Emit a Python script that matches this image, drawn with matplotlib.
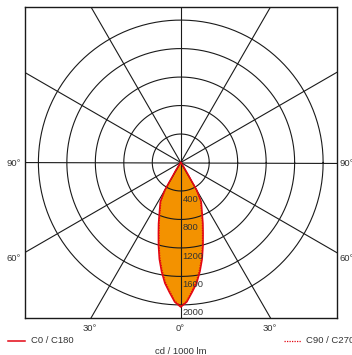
import numpy as np
import matplotlib
matplotlib.use("Agg")
import matplotlib.pyplot as plt

# --- data ---
angles = [0, 2.5, 5, 7.5, 10, 12.5, 15, 17.5, 20, 22.5, 25, 27.5, 30, 32.5, 35, 37.5, 40, 45, 50, 60, 70, 80, 90]
c0_c180 = [2030, 1960, 1830, 1710, 1555, 1390, 1210, 1045, 913, 790, 697, 624, 450, 120, 40, 15, 5, 0, 0, 0, 0, 0, 0]
c90_c270 = [2020, 1945, 1810, 1685, 1525, 1360, 1180, 1015, 885, 765, 672, 600, 420, 100, 30, 10, 3, 0, 0, 0, 0, 0, 0]
ring_values = [400, 800, 1200, 1600, 2000]
ring_labels = ["400", "800", "1200", "1600", "2000"]
spoke_angles = [0, 30, 60, 90, 120, 150]
legend_labels = ["C0 / C180", "C90 / C270"]
unit_label = "cd / 1000 lm"

plt.rcParams['font.family'] = ['Liberation Sans', 'DejaVu Sans']

RED = '#e30613'
ORANGE = '#f39200'
GRID = '#1a1a1a'
TXT = '#333333'

fig = plt.figure(figsize=(3.52, 3.55), dpi=100)
ax = fig.add_axes([25 / 352, (355 - 318.3) / 355, 311.5 / 352, 311.6 / 355])
LIM = 2188
ax.set_xlim(-LIM, LIM)
ax.set_ylim(-LIM, LIM)
ax.set_xticks([])
ax.set_yticks([])
for s in ax.spines.values():
    s.set_color(GRID)
    s.set_linewidth(1.0)


def curve(vals):
    a = np.radians(np.concatenate([-np.array(angles[::-1]), np.array(angles[1:])]))
    v = np.concatenate([np.array(vals[::-1]), np.array(vals[1:])])
    return v * np.sin(a), -v * np.cos(a)


x0, y0 = curve(c0_c180)
x9, y9 = curve(c90_c270)
ax.fill(x0, y0, color=ORANGE, zorder=1, lw=0)

# grid
t = np.linspace(0, 2 * np.pi, 400)
for r in ring_values:
    ax.plot(r * np.cos(t), r * np.sin(t), color=GRID, lw=0.8, zorder=2)
for a in spoke_angles:
    ar = np.radians(a)
    L = 4000
    ax.plot([-L * np.sin(ar), L * np.sin(ar)], [L * np.cos(ar), -L * np.cos(ar)],
            color=GRID, lw=0.8, zorder=2)

ax.plot(x9, y9, color=RED, lw=0.9, ls=(0, (1, 1)), zorder=3)
ax.plot(x0, y0, color=RED, lw=1.1, zorder=4)

for r, lab in zip(ring_values, ring_labels):
    ax.text(25, -r - 50, lab, ha='left', va='top', fontsize=6.8, color=TXT, zorder=5)

# angle labels outside the box
fig.text(21 / 352, 1 - 163 / 355, "90°", ha='right', va='center', fontsize=6.8, color=TXT)
fig.text(340 / 352, 1 - 163 / 355, "90°", ha='left', va='center', fontsize=6.8, color=TXT)
fig.text(21 / 352, 1 - 258.5 / 355, "60°", ha='right', va='center', fontsize=6.8, color=TXT)
fig.text(340 / 352, 1 - 258.5 / 355, "60°", ha='left', va='center', fontsize=6.8, color=TXT)
for xp, lab in [(90, "30°"), (180.3, "0°"), (270, "30°")]:
    fig.text(xp / 352, 1 - 328.5 / 355, lab, ha='center', va='center', fontsize=6.8, color=TXT)

# legend
fig.add_artist(plt.Line2D([8 / 352, 25 / 352], [1 - 340.7 / 355] * 2, color=RED, lw=1.1))
fig.text(31 / 352, 1 - 340.7 / 355, legend_labels[0], ha='left', va='center', fontsize=6.8, color=TXT)
fig.add_artist(plt.Line2D([284 / 352, 301 / 352], [1 - 340.7 / 355] * 2, color=RED, lw=0.9, ls=(0, (1, 1))))
fig.text(305.5 / 352, 1 - 340.7 / 355, legend_labels[1], ha='left', va='center', fontsize=6.8, color=TXT)
fig.text(180.3 / 352, 1 - 351 / 355, unit_label, ha='center', va='center', fontsize=6.8, color=TXT)

fig.savefig("out.png", dpi=100)
